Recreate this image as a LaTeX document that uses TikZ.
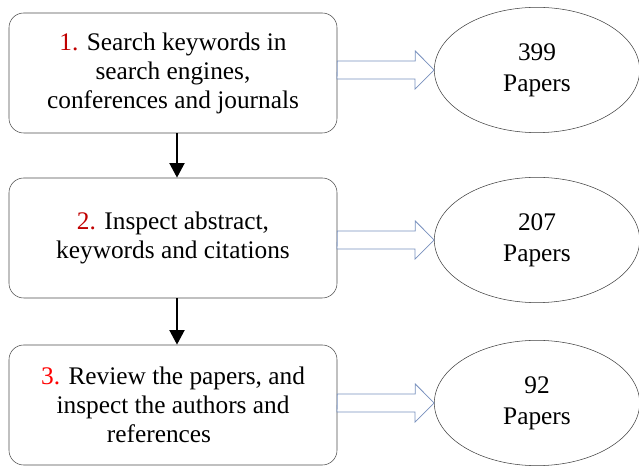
\documentclass[tikz,border=0pt]{standalone}
\usepackage{fontspec}
\setmainfont{Liberation Serif}
\usepackage{xcolor}
\usetikzlibrary{arrows.meta,shapes.geometric}
\definecolor{darkred}{RGB}{192,0,0}
\definecolor{arrowblue}{RGB}{120,145,190}

\tikzset{
  stepbox/.style={draw=black!70, rounded corners=11pt, minimum width=246pt,
    minimum height=90pt, align=center, font=\fontsize{19}{21.75}\selectfont},
  countnode/.style={draw=black!75, ellipse, minimum width=154pt, minimum height=94pt,
    inner sep=0pt, align=center, font=\fontsize{19}{23}\selectfont},
  downarrow/.style={line width=2.2pt, -{Triangle[width=11pt,length=11pt]}},
  blockarrow/.style={draw=arrowblue, line width=0.6pt, fill=white}
}

\begin{document}
\begin{tikzpicture}[x=0.75pt,y=-0.75pt]
    \useasboundingbox (0,0) rectangle (639,466);
    % Steps
    \node[stepbox] (S1) at (173,73) {\textcolor{darkred}{1.} Search keywords in\\search engines,\\conferences and journals};
    \node[stepbox] (S2) at (173,238) {\textcolor{darkred}{2.} Inspect abstract,\\keywords and citations};
    \node[stepbox] (S3) at (173,405) {\textcolor{red}{3.} Review the papers, and\\inspect the authors and\\references\hspace*{21pt}};
    % Counts
    \node[countnode] (N1) at (537,70) {399\\Papers};
    \node[countnode] (N2) at (537,240) {207\\Papers};
    \node[countnode] (N3) at (537,403) {92\\Papers};

    % Flow
    \draw[downarrow] ([xshift=3pt]S1.south) -- ([xshift=3pt]S2.north);
    \draw[downarrow] ([xshift=3pt]S2.south) -- ([xshift=3pt]S3.north);

    % Block arrows
    \foreach \s/\n in {S1/N1,S2/N2,S3/N3}
      \draw[blockarrow] (\s.east |- \n.west) ++(0,-9) -- ++(78,0) -- ++(0,-10)
        -- (\n.west) -- ++(-19,19) -- ++(0,-10) -- ++(-78,0) -- cycle;
\end{tikzpicture}
\end{document}
